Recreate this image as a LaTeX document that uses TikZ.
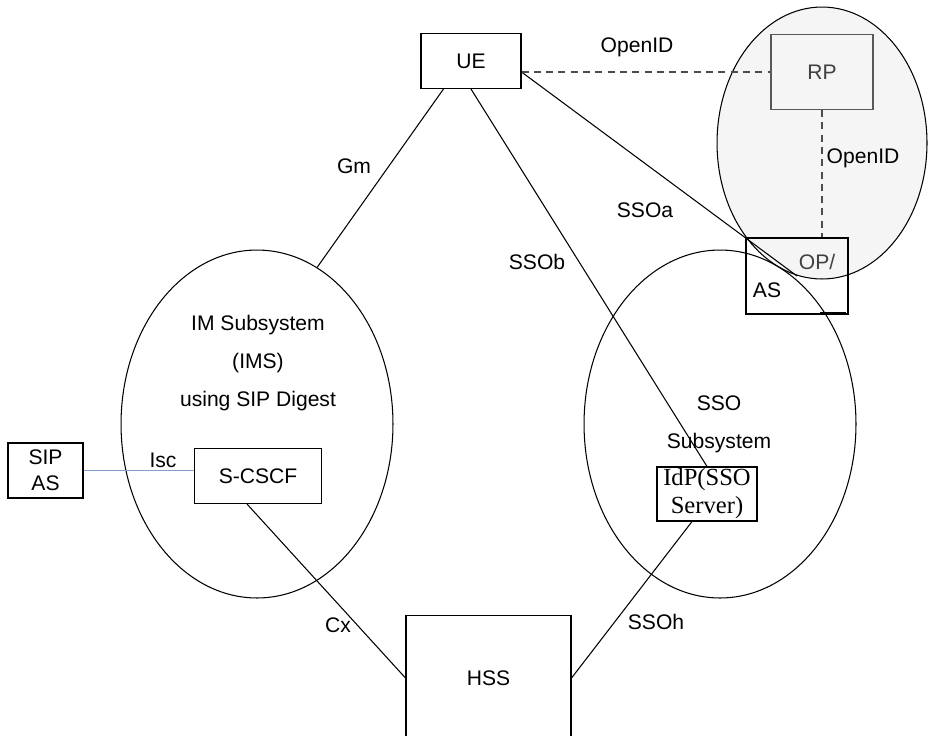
\documentclass[tikz,border=0pt]{standalone}
\usepackage{fontspec}
\setmainfont{Liberation Sans}
\newfontfamily\idpfont{Liberation Serif}
\usetikzlibrary{positioning, calc, shapes.geometric}
\colorlet{cloudgray}{black!4}
\definecolor{iscblue}{RGB}{130,160,205}

\begin{document}
\begin{tikzpicture}[x=0.02cm, y=-0.02cm, font=\fontsize{12}{14}\selectfont,
    box/.style={draw, line width=0.6pt, inner sep=0pt},
    cloud/.style={draw, ellipse, line width=0.6pt, inner sep=0pt},
    link/.style={line width=0.6pt},
    oid/.style={line width=0.6pt, black!70, dash pattern=on 4pt off 3pt}]
  \useasboundingbox (0,0) rectangle (928,735);

  % Subsystems
  \node[cloud, fill=cloudgray, minimum width=4.2cm, minimum height=5.44cm] (opcloud) at (822,143) {};
  \node[cloud, minimum width=5.44cm, minimum height=6.96cm] (ims) at (257,424) {};
  \node[cloud, minimum width=5.44cm, minimum height=6.96cm] (sso) at (720,424) {};
  \node[align=center, font=\fontsize{12}{21.6}\selectfont] (imstext) at (258,363) {IM Subsystem\\(IMS)\\using SIP Digest};
  \node[align=center, font=\fontsize{12}{21.6}\selectfont] (ssotext) at (719,424) {SSO\\Subsystem};

  % Entities
  \node[box, minimum width=2cm, minimum height=1.1cm] (ue) at (471,61) {UE};
  \node[box, draw=black!65, fill=cloudgray, text=black!75, minimum width=2.04cm, minimum height=1.5cm] (rp) at (822,72) {RP};
  \node[box, minimum width=2.04cm, minimum height=1.52cm] (opas) at (797,276) {};
  \node[text=black!75] (op) at (817,262) {OP/};
  \node (as) at (767,290) {AS};
  \node[box, minimum width=2cm, minimum height=1.08cm, align=center, font=\idpfont\fontsize{14}{15.9}\selectfont] (idp) at (707,494) {IdP(SSO\\Server)};
  \node[box, minimum width=2.54cm, minimum height=1.1cm] (scscf) at (258,476) {S-CSCF};
  \node[box, minimum width=1.5cm, minimum height=1.1cm, align=center, font=\fontsize{12}{14.8}\selectfont] (sipas) at (45.5,470.5) {SIP\\AS};
  \node[box, minimum width=3.3cm, minimum height=2.52cm] (hss) at (488.5,678) {HSS};

  % Interfaces
  \draw[link] ($(ue.south west)+(23,0)$) -- (ims.69);
  \draw[link] (ue.south) -- (idp.north);
  \draw[link] (rp.west -| ue.east) -- (opas.center);
  \draw[link, draw=iscblue] (sipas.east) -- (sipas.east -| scscf.west);
  \draw[link] ($(scscf.south)+(-11,0)$) -- (hss.west);
  \draw[link] ($(idp.south)+(-15,0)$) -- (hss.east);
  \draw[oid] (rp.west -| ue.east) -- (rp.west);
  \draw[oid] (rp.south) -- (rp.south |- opas.north);
  \draw[line width=1.6pt] (820,313) -- (846,313);

  % Interface labels
  \node (oidtop) at (637,47) {OpenID};
  \node (oidright) at (863,158) {OpenID};
  \node (ssoa) at (645,210) {SSOa};
  \node (gm) at (354,166) {Gm};
  \node (ssob) at (537,262) {SSOb};
  \node (isc) at (163,460) {Isc};
  \node (cx) at (338,625) {Cx};
  \node (ssoh) at (656,622) {SSOh};
\end{tikzpicture}
\end{document}
